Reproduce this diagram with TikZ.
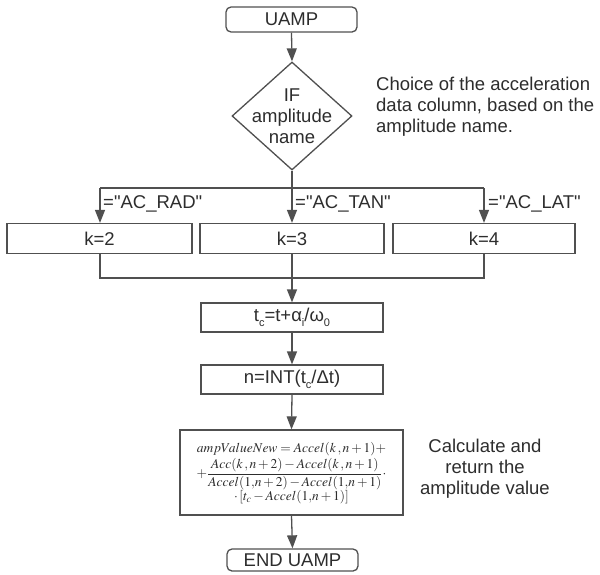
\documentclass[tikz,border=0pt]{standalone}
\usepackage{mathptmx}
\usepackage[no-math]{fontspec}
\setmainfont{Liberation Sans}
\newfontfamily\qf{Liberation Sans}
\usetikzlibrary{shapes.geometric,arrows.meta}
\definecolor{ln}{RGB}{80,80,80}
\definecolor{tx}{RGB}{45,45,45}
\begin{document}
\begin{tikzpicture}[x=1pt,y=-1pt,
  every node/.style={text=tx},
  txt/.style={font=\fontsize{18.5}{21}\selectfont, inner sep=0pt},
  box/.style={draw=ln, line width=1.3pt, inner sep=0pt, font=\fontsize{18.5}{21}\selectfont},
  term/.style={box, rounded corners=5pt},
  con/.style={draw=ln, line width=1.3pt},
  arr/.style={con, -{Triangle[length=13pt,width=10pt]}}]
\useasboundingbox (0,0) rectangle (600,574);
\fill[white] (0,0) rectangle (600,574);

\node[term, minimum width=131pt, minimum height=25pt] (start) at (291.5,19.5) {UAMP};
\node[draw=ln, line width=1.3pt, shape=diamond, inner sep=0pt, minimum width=120pt, minimum height=108pt] (d) at (292,116) {};
\node[txt, align=center] (dt) at (292,116) {IF\\amplitude\\name};
\node[txt, align=left, anchor=north west] (note1) at (376,77) {Choice of the acceleration\\data column, based on the\\amplitude name.};

\coordinate (j) at (292,188);
\coordinate (jl) at (100,188);
\coordinate (jr) at (484,188);

\node[box, minimum width=185pt, minimum height=30pt] (k2) at (99.5,238.5) {k=2};
\node[box, minimum width=184pt, minimum height=30pt] (k3) at (292,238.5) {k=3};
\node[box, minimum width=182pt, minimum height=30pt] (k4) at (484,238.5) {k=4};

\node[txt, anchor=west] (l2) at (103,204) {\qf ="AC\_RAD"};
\node[txt, anchor=west] (l3) at (295,204) {\qf ="AC\_TAN"};
\node[txt, anchor=west] (l4) at (488,204) {\qf ="AC\_LAT"};

\coordinate (ml) at (100,278);
\coordinate (mr) at (484,278);

\node[box, minimum width=182pt, minimum height=29pt] (tc) at (292,317.5) {t\raisebox{-0.45ex}{\fontsize{11}{11}\selectfont c}=t+α\raisebox{-0.45ex}{\fontsize{11}{11}\selectfont i}/ω\raisebox{-0.45ex}{\fontsize{11}{11}\selectfont 0}};
\node[box, minimum width=182pt, minimum height=29pt] (n) at (292,379.5) {n=INT(t\raisebox{-0.45ex}{\fontsize{11}{11}\selectfont c}/Δt)};

\node[box, minimum width=223pt, minimum height=85pt] (calc) at (291.5,472.5) {};
\node[inner sep=0pt, font=\fontsize{13.5}{15}\selectfont] (ct) at (291.5,473.5) {$\begin{array}{@{}c@{}}
ampValueNew=Accel(k\,,n+1)+\\[1pt]
+\displaystyle\frac{Acc(k\,,n+2)-Accel(k\,,n+1)}{Accel(1{,}n+2)-Accel(1{,}n+1)}\cdot\\[3pt]
\cdot\left[t_c-Accel(1{,}n+1)\right]
\end{array}$};
\node[txt, align=center] (note2) at (485,469) {Calculate and\\return the\\amplitude value};

\node[term, minimum width=131pt, minimum height=22pt] (end) at (292.5,560) {END UAMP};

\draw[arr] (start.south) -- (d.north);
\draw[con] (d.south) -- (j);
\draw[con] (jl) -- (jr);
\draw[arr] (jl) -- (jl |- k2.north);
\draw[arr] (j) -- (k3.north);
\draw[arr] (jr) -- (jr |- k4.north);
\draw[con] (jl |- k2.south) -- (ml) -- (mr) -- (jr |- k4.south);
\draw[arr] (k3.south) -- (tc.north);
\draw[arr] (tc.south) -- (n.north);
\draw[arr] (n.south) -- (calc.north);
\draw[arr] (calc.south) -- (end.north);
\end{tikzpicture}
\end{document}
